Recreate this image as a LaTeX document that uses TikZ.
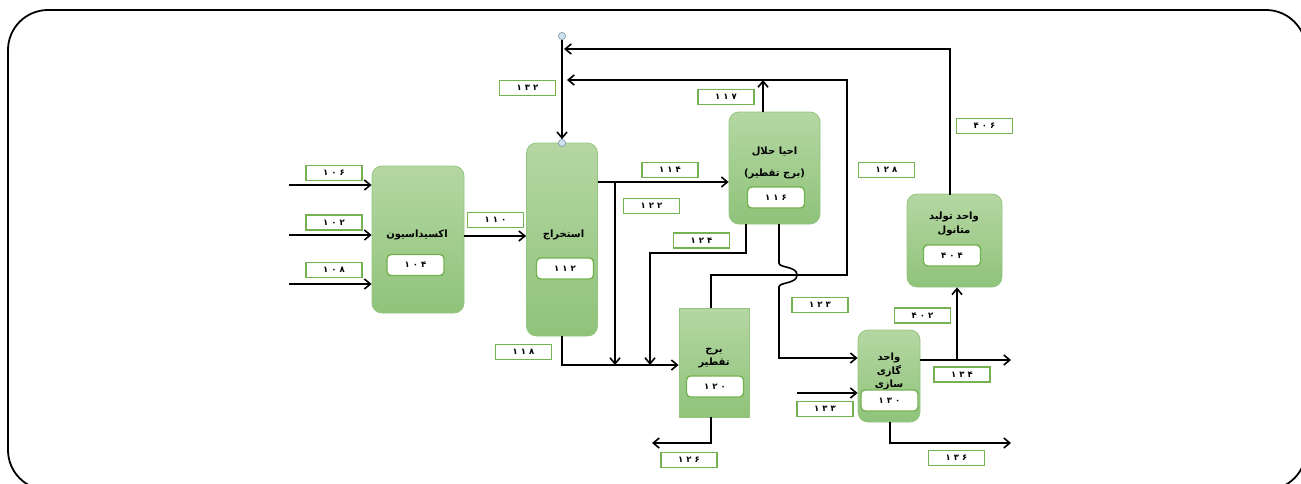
\documentclass[tikz,border=0pt]{standalone}
\usepackage{fontspec}
\newfontfamily\ar[Script=Arabic]{DejaVu Sans}
\TeXXeTstate=1
\usetikzlibrary{arrows.meta}
\definecolor{gtop}{HTML}{B5D7A3}
\definecolor{gbot}{HTML}{8FC37A}
\definecolor{gedge}{HTML}{93C580}
\definecolor{lgreen}{HTML}{74B150}
\definecolor{cfill}{HTML}{CFE5F2}
\definecolor{cedge}{HTML}{8A9BA8}
\newcommand\dgfont{\ar\bfseries\fontsize{8.5}{9}\selectfont}
\newcommand\dg[3]{#1\hspace{3pt}#2\hspace{3pt}#3}
\begin{document}
\begin{tikzpicture}[x=1pt,y=-1pt,
  ln/.style={line width=1.6pt, black},
  arr/.style={ln, -{Straight Barb[length=6pt,width=10pt]}},
  unit/.style={rounded corners=10pt, draw=gedge, line width=0.8pt, top color=gtop, bottom color=gbot, inner sep=0},
  sq/.style={unit, rounded corners=0pt},
  inbox/.style={rounded corners=4pt, draw=lgreen, line width=1.4pt, fill=white, minimum width=57, minimum height=21, inner sep=0, font=\dgfont},
  lbl/.style={draw=lgreen, line width=1.6pt, fill=white, minimum width=56, minimum height=15, inner sep=0, font=\dgfont},
  utext/.style={font=\ar\bfseries\fontsize{10}{12}\selectfont, inner sep=0, align=center},
  circ/.style={circle, minimum size=7, inner sep=0, fill=cfill, draw=cedge, line width=0.6pt}]

\useasboundingbox (0,0) rectangle (1301,483);
\draw[line width=1.8pt, rounded corners=40pt] (8,10) rectangle (1306,490);

% units
\node[unit, minimum width=92, minimum height=147] (ox) at (418,239.5) {};
\node[unit, minimum width=71, minimum height=193] (ext) at (562,239.5) {};
\node[unit, minimum width=91, minimum height=112] (regen) at (774.5,168) {};
\node[sq, minimum width=70, minimum height=109] (tower) at (714,362.5) {};
\node[unit, minimum width=62, minimum height=92] (gas) at (889,376) {};
\node[unit, minimum width=95, minimum height=93] (meth) at (954.5,240.5) {};

% unit texts
\node[utext] (oxt) at (417,235) {\beginR اکسیداسیون\endR};
\node[utext] (extt) at (563.5,235) {\beginR استخراج\endR};
\node[utext] (regt1) at (774.5,152) {\beginR احیا حلال\endR};
\node[utext] (regt2) at (774.5,174) {\beginR (برج تقطیر)\endR};
\node[utext, font=\ar\bfseries\fontsize{10}{12.5}\selectfont] (towt) at (714,358) {\beginR برج\endR\\ \beginR تقطیر\endR};
\node[utext, font=\ar\bfseries\fontsize{10}{13.5}\selectfont] (gast) at (889,371.5) {\beginR واحد\endR\\ \beginR گازی\endR\\ \beginR سازی\endR};
\node[utext, font=\ar\bfseries\fontsize{10}{14}\selectfont] (metht) at (954,224) {\beginR واحد تولید\endR\\ \beginR متانول\endR};

% inner number boxes
\node[inbox] (oxn) at (415.5,265) {\dg{۱}{۰}{۴}};
\node[inbox] (extn) at (565,268.5) {\dg{۱}{۱}{۲}};
\node[inbox] (regn) at (776,197.5) {\dg{۱}{۱}{۶}};
\node[inbox] (town) at (715,386.5) {\dg{۱}{۲}{۰}};
\node[inbox] (gasn) at (889.5,400.5) {\dg{۱}{۳}{۰}};
\node[inbox] (methn) at (952,255.5) {\dg{۴}{۰}{۴}};

% coordinates
\coordinate (i106) at (289,185);
\coordinate (i102) at (289,235);
\coordinate (i108) at (289,284);
\node[circ] (c1) at (562,36) {};
\node[circ] (c2) at (562,143) {};
\coordinate (j406) at (564,49);
\coordinate (j128) at (567,80);
\coordinate (m406) at (950,195);
\coordinate (r117) at (763,112);
\coordinate (j117) at (763,80);
\coordinate (t128) at (711,308);
\coordinate (k128) at (847,275);
\coordinate (e114) at (597.5,182);
\coordinate (b122) at (615,182);
\coordinate (j122) at (615,365);
\coordinate (j124) at (650,365);
\coordinate (r124) at (746,224);
\coordinate (r123) at (779,224);
\coordinate (i133) at (797,393);
\coordinate (o134) at (1011,360);
\coordinate (b402) at (957,360);
\coordinate (o136) at (1011,443);
\coordinate (o126) at (652,443);

% connectors
\draw[arr] (i106) -- (i106 -| ox.west);
\draw[arr] (i102) -- (i102 -| ox.west);
\draw[arr] (i108) -- (i108 -| ox.west);
\draw[arr] (ox.east |- 0,236) -- (ext.west |- 0,236);
\draw[arr] (c1.south) -- (c2.north);
\draw[arr] (m406) |- (j406);
\draw[arr] (r117) -- (j117);
\draw[arr] (t128) |- (k128) |- (j128);
\draw[arr] (e114) -- (e114 -| regen.west);
\draw[arr] (b122) -- (j122);
\draw[arr] (ext.south) |- (tower.west |- 0,365);
\draw[arr] (r124) |- (650,253) -- (j124);
\draw[arr] (r123) -- (779,263) .. controls (779,268) and (797,266) .. (797,275) .. controls (797,284) and (779,282) .. (779,287) |- (gas.west |- 0,358);
\draw[arr] (i133) -- (i133 -| gas.west);
\draw[arr] (gas.east |- o134) -- (o134);
\draw[arr] (b402) -- (meth.south -| b402);
\draw[arr] (gas.south -| 890,0) |- (o136);
\draw[arr] (tower.south -| 711,0) |- (o126);
\node[circ] at (c1) {};
\node[circ] at (c2) {};

% stream labels
\node[lbl] (l106) at (334,173) {\dg{۱}{۰}{۶}};
\node[lbl] (l102) at (334,222.5) {\dg{۱}{۰}{۲}};
\node[lbl] (l108) at (334,270) {\dg{۱}{۰}{۸}};
\node[lbl] (l110) at (495.5,220) {\dg{۱}{۱}{۰}};
\node[lbl] (l132) at (527.5,88) {\dg{۱}{۳}{۲}};
\node[lbl] (l114) at (670,170) {\dg{۱}{۱}{۴}};
\node[lbl] (l122) at (651.5,206) {\dg{۱}{۲}{۲}};
\node[lbl] (l117) at (726,97) {\dg{۱}{۱}{۷}};
\node[lbl] (l124) at (701.5,240.5) {\dg{۱}{۲}{۴}};
\node[lbl] (l118) at (523.5,352) {\dg{۱}{۱}{۸}};
\node[lbl] (l128) at (886.5,170) {\dg{۱}{۲}{۸}};
\node[lbl] (l406) at (984.5,126) {\dg{۴}{۰}{۶}};
\node[lbl] (l123) at (820,305) {\dg{۱}{۲}{۳}};
\node[lbl] (l402) at (922.5,315.5) {\dg{۴}{۰}{۲}};
\node[lbl] (l134) at (962,374.5) {\dg{۱}{۳}{۴}};
\node[lbl] (l133) at (825,409) {\dg{۱}{۳}{۳}};
\node[lbl] (l126) at (689,460) {\dg{۱}{۲}{۶}};
\node[lbl] (l136) at (956.5,458) {\dg{۱}{۳}{۶}};
\end{tikzpicture}
\end{document}
